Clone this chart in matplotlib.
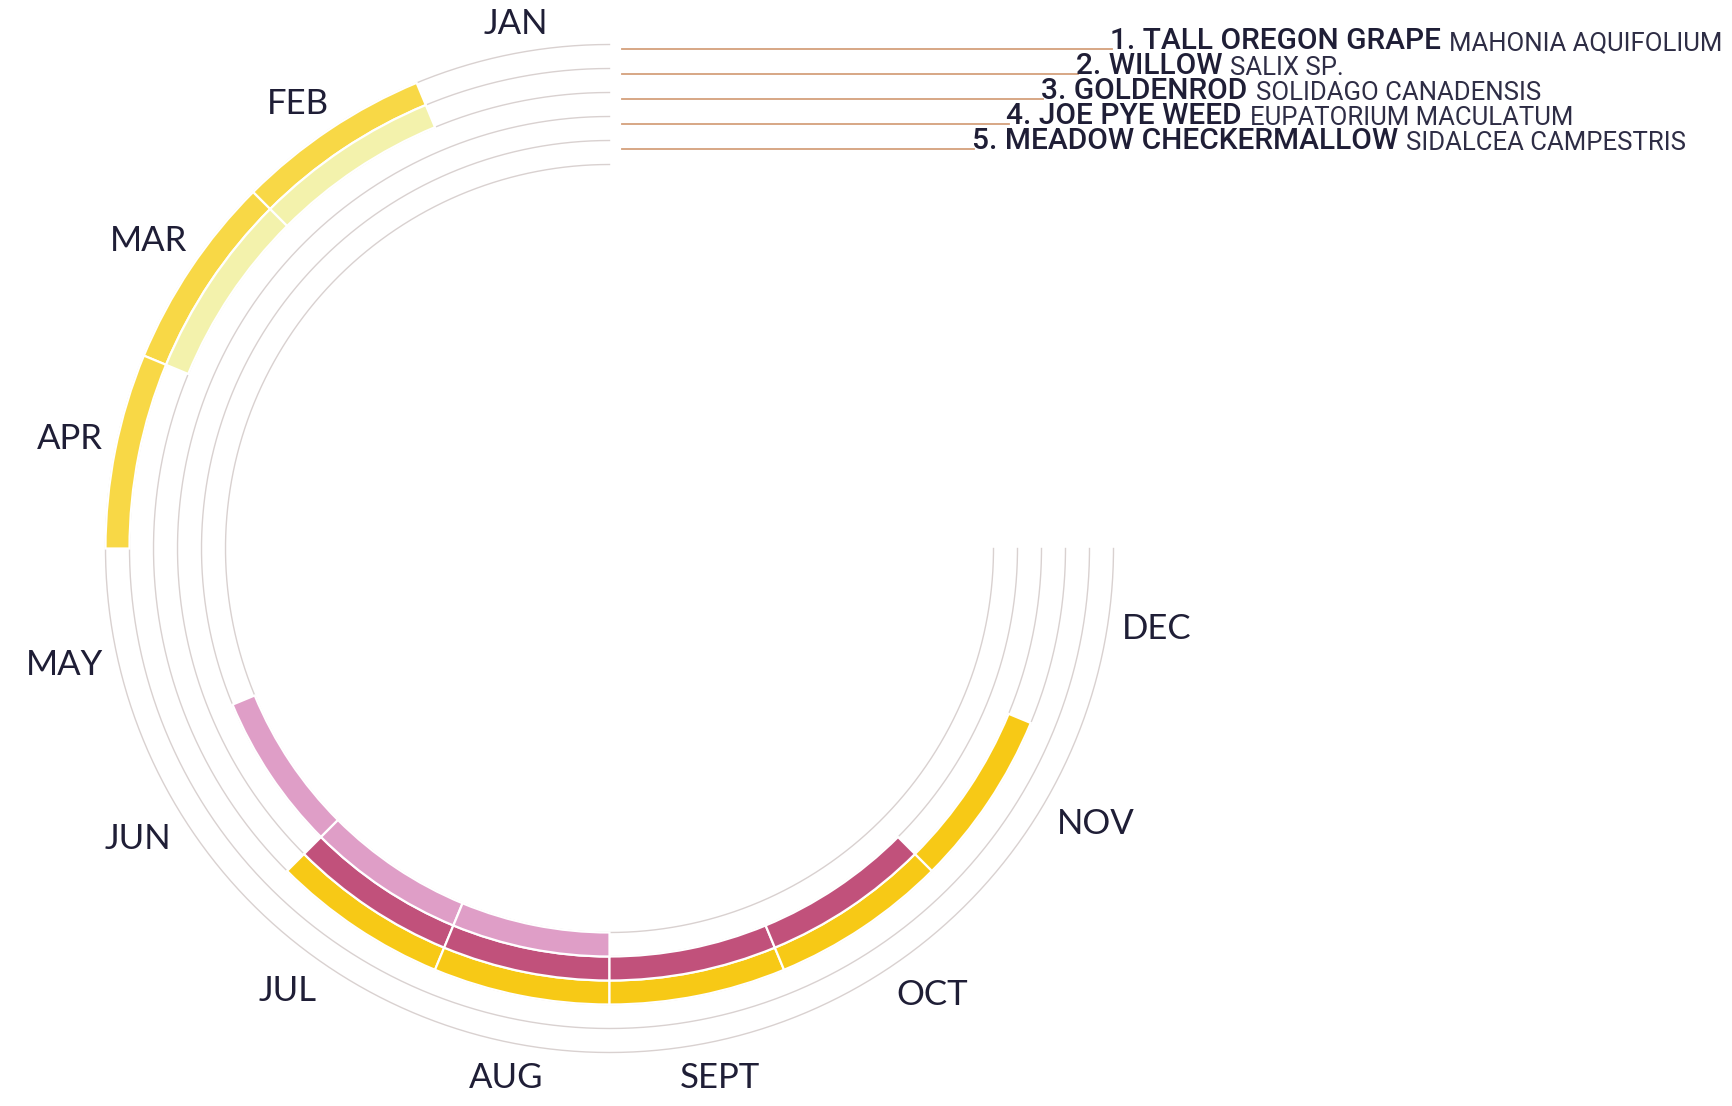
import numpy as np
import matplotlib.pyplot as plt
from matplotlib import font_manager

# months around the dial, Jan at the top, running anticlockwise over 270 degrees
months = ['JAN', 'FEB', 'MAR', 'APR', 'MAY', 'JUN',
          'JUL', 'AUG', 'SEPT', 'OCT', 'NOV', 'DEC']

common_names = ['1. TALL OREGON GRAPE', '2. WILLOW', '3. GOLDENROD',
                '4. JOE PYE WEED', '5. MEADOW CHECKERMALLOW']
latin_names = ['MAHONIA AQUIFOLIUM', 'SALIX SP.', 'SOLIDAGO CANADENSIS',
               'EUPATORIUM MACULATUM', 'SIDALCEA CAMPESTRIS']

# bloom months per plant (outer ring first)
oregon_grape = ['FEB', 'MAR', 'APR']
willow = ['FEB', 'MAR']
goldenrod = ['JUL', 'AUG', 'SEPT', 'OCT', 'NOV']
joe_pye = ['JUL', 'AUG', 'SEPT', 'OCT']
checkermallow = ['JUN', 'JUL', 'AUG']
blooms = [oregon_grape, willow, goldenrod, joe_pye, checkermallow]

colors = ['#F8D846', '#F3F2AC', '#F7C916', '#C1517B', '#DF9EC7']
text_col = '#1F1E36'

installed = {f.name for f in font_manager.fontManager.ttflist}
key_font = 'Roboto' if 'Roboto' in installed else 'DejaVu Sans'
key_fam = [key_font, 'DejaVu Sans']

W, H = 1732, 1106
cx, cy = 609.5, 548.5          # centre in pixels (from top-left)
R = 600                        # polar axes half size, 1 r-unit = 1 px
r_out = 504
ring_w = 24
step = 270 / 12

fig = plt.figure(figsize=(W / 100, H / 100), dpi=100)
fig.patch.set_facecolor('white')

ax = fig.add_axes([(cx - R) / W, (H - cy - R) / H, 2 * R / W, 2 * R / H],
                  projection='polar')
ax.set_theta_zero_location('N')
ax.set_theta_direction(1)
ax.set_ylim(0, R)
ax.set_axis_off()

# thin guide circles, Jan start to Dec end
t = np.linspace(0, np.radians(270), 400)
for k in range(6):
    ax.plot(t, np.full_like(t, r_out - k * ring_w), color='#D9D1D0', lw=1.0, zorder=1)

# one bar per bloom month
for k, months_on in enumerate(blooms):
    bottom = r_out - (k + 1) * ring_w
    idx = np.array([months.index(m) for m in months_on])
    theta = np.radians((idx + 0.5) * step)
    ax.bar(theta, ring_w, width=np.radians(step), bottom=bottom,
           color=colors[k], edgecolor='white', linewidth=1.6, zorder=2)

# month labels, pushed out by their own half size so the gap stays even;
# a few are slid along the ring by hand
nudge = [-1.2, 1.1, -0.2, -0.5, 0.5, -2.4, -2.5, 0.2, 0.6, 2.3, 4.5, 3.2]
renderer = fig.canvas.get_renderer()
for i, m in enumerate(months):
    phi = np.radians((i + 0.5) * step + nudge[i])
    lab = ax.text(phi, 540, m, ha='center', va='center_baseline',
                  fontsize=25, color=text_col, family=['Lato', 'DejaVu Sans'])
    w = lab.get_window_extent(renderer).width
    lab.set_position((phi, 516 + 0.5 * w * abs(np.sin(phi)) + 14 * abs(np.cos(phi))))

# overlay in pixel coords for the key
ov = fig.add_axes([0, 0, 1, 1])
ov.set_xlim(0, W)
ov.set_ylim(H, 0)
ov.set_axis_off()
ov.patch.set_alpha(0)

for k in range(5):
    y = 49 + k * 25
    x0 = 1110 - k * 34.5
    ov.plot([622, x0 + 2], [y, y], color='#D4A07C', lw=1.3)
    t1 = ov.text(x0, y, common_names[k], ha='left', va='baseline',
                 fontsize=21.5, fontweight='medium', color=text_col, family=key_fam)
    ov.annotate(latin_names[k], xy=(1, 0), xycoords=t1, xytext=(6, 0),
                textcoords='offset points', ha='left', va='bottom',
                fontsize=18.5, fontweight='normal', color='#2E2D45', family=key_fam)

fig.savefig('out.png', dpi=100)
